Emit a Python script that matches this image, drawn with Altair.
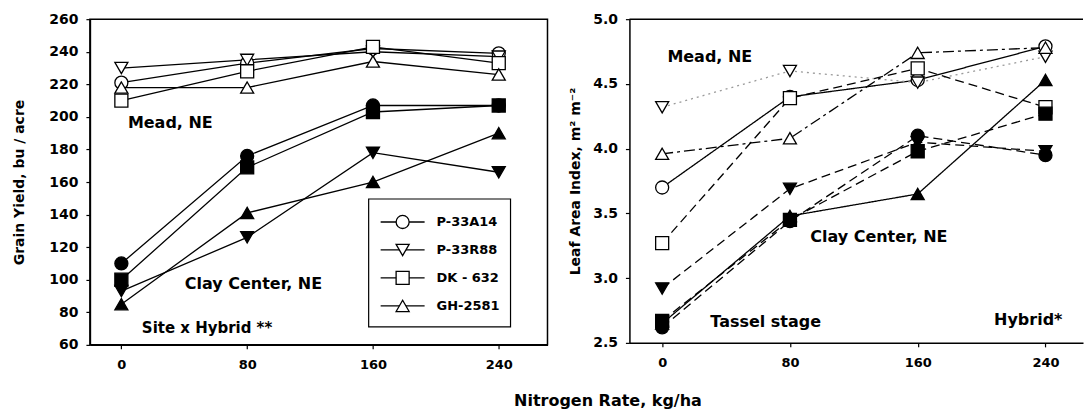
import altair as alt
import pandas as pd

# ---------------- data ----------------
rates = [0, 80, 160, 240]
hybrids = ["P-33A14", "P-33R88", "DK - 632", "GH-2581"]
sites = ["Mead, NE", "Clay Center, NE"]

yield_mead_p33a14 = [221, 233, 242, 239]
yield_mead_p33r88 = [230, 235, 240, 237]
yield_mead_dk632 = [210, 228, 243, 233]
yield_mead_gh2581 = [218, 218, 234, 226]

yield_clay_p33a14 = [110, 176, 207, 207]
yield_clay_p33r88 = [93, 126, 178, 166]
yield_clay_dk632 = [100, 169, 203, 207]
yield_clay_gh2581 = [85, 141, 160, 190]

lai_mead_p33a14 = [3.70, 4.40, 4.53, 4.79]
lai_mead_p33r88 = [4.32, 4.60, 4.51, 4.71]
lai_mead_dk632 = [3.27, 4.39, 4.62, 4.32]
lai_mead_gh2581 = [3.96, 4.08, 4.74, 4.78]

lai_clay_p33a14 = [2.62, 3.44, 4.10, 3.95]
lai_clay_p33r88 = [2.92, 3.69, 4.05, 3.98]
lai_clay_dk632 = [2.67, 3.45, 3.98, 4.27]
lai_clay_gh2581 = [2.65, 3.48, 3.65, 4.53]

left_notes = ["Mead, NE", "Clay Center, NE", "Site x Hybrid **"]
right_notes = ["Mead, NE", "Clay Center, NE", "Tassel stage", "Hybrid*"]

# ---------------- build tables ----------------
def long_table(series):
    rows = []
    for site, hyb, vals in series:
        for r, v in zip(rates, vals):
            rows.append({"site": site, "hybrid": hyb, "series": site + "|" + hyb,
                         "rate": r, "value": v})
    return pd.DataFrame(rows)

yield_df = long_table([
    (sites[0], hybrids[0], yield_mead_p33a14), (sites[0], hybrids[1], yield_mead_p33r88),
    (sites[0], hybrids[2], yield_mead_dk632), (sites[0], hybrids[3], yield_mead_gh2581),
    (sites[1], hybrids[0], yield_clay_p33a14), (sites[1], hybrids[1], yield_clay_p33r88),
    (sites[1], hybrids[2], yield_clay_dk632), (sites[1], hybrids[3], yield_clay_gh2581),
])
lai_df = long_table([
    (sites[0], hybrids[0], lai_mead_p33a14), (sites[0], hybrids[1], lai_mead_p33r88),
    (sites[0], hybrids[2], lai_mead_dk632), (sites[0], hybrids[3], lai_mead_gh2581),
    (sites[1], hybrids[0], lai_clay_p33a14), (sites[1], hybrids[1], lai_clay_p33r88),
    (sites[1], hybrids[2], lai_clay_dk632), (sites[1], hybrids[3], lai_clay_gh2581),
])

# ---------------- styling ----------------
FONT = "DejaVu Sans"
LW, LH = 458, 326
RW, RH = 454, 324
MSIZE = 170

shape_scale = alt.Scale(domain=hybrids, range=["circle", "triangle-down", "square", "triangle-up"])
fill_scale = alt.Scale(domain=sites, range=["white", "black"])

series_keys = [s + "|" + h for s in sites for h in hybrids]
dash_styles = [[1, 0], [2, 4], [9, 5], [11, 4, 3, 4],
               [9, 5], [9, 5], [9, 5], [1, 0]]
line_colors = ["black", "#9a9a9a", "black", "black", "black", "black", "black", "black"]


def axis_common(**kw):
    base = dict(grid=False, domainColor="black", domainWidth=1.5, tickColor="black",
                tickWidth=1.2, tickSize=4, labelColor="black", labelFont=FONT,
                labelFontWeight="bold", titleColor="black", titleFont=FONT,
                titleFontWeight="bold")
    base.update(kw)
    return alt.Axis(**base)


def note_layer(text, x, y, size):
    return alt.Chart(pd.DataFrame({"t": [text]})).mark_text(
        align="left", baseline="alphabetic", font=FONT, fontWeight="bold",
        fontSize=size, color="black").encode(x=alt.value(x), y=alt.value(y), text="t:N")

# ---------------- left panel: grain yield ----------------
lx = alt.X("rate:Q", scale=alt.Scale(domain=[-20, 271], nice=False, zero=False),
           axis=axis_common(values=rates, title=None, labelFontSize=13, labelPadding=10))
ly = alt.Y("value:Q", scale=alt.Scale(domain=[60, 260], nice=False, zero=False),
           axis=axis_common(values=list(range(60, 261, 20)), title="Grain Yield, bu / acre",
                            labelFontSize=14, labelPadding=8, titleFontSize=14,
                            titleX=-70, titleY=LH / 2, titleAlign="center",
                            titleBaseline="middle", titleAngle=-90))

ybase = alt.Chart(yield_df)
y_lines = ybase.mark_line(color="black", strokeWidth=1.3).encode(x=lx, y=ly, detail="series:N")
y_pts = ybase.mark_point(filled=True, size=MSIZE, stroke="black", strokeWidth=1.3, opacity=1).encode(
    x=lx, y=ly,
    shape=alt.Shape("hybrid:N", scale=shape_scale, legend=None),
    fill=alt.Fill("site:N", scale=fill_scale, legend=None))

# legend box (manual, inside the left panel)
LEG_X0, LEG_X1, LEG_Y0, LEG_Y1 = 279, 421, 180, 308
leg_df = pd.DataFrame({"hybrid": hybrids, "idx": list(range(len(hybrids)))})
leg_box = alt.Chart(pd.DataFrame({"a": [0]})).mark_rect(
    fill="white", stroke="black", strokeWidth=1.2).encode(
    x=alt.value(LEG_X0), x2=alt.value(LEG_X1), y=alt.value(LEG_Y0), y2=alt.value(LEG_Y1))
leg_base = alt.Chart(leg_df).transform_calculate(py="203 + datum.idx * 28")
leg_y = alt.Y("py:Q", scale=None, axis=None)
leg_lines = leg_base.mark_rule(color="black", strokeWidth=1.3).encode(
    x=alt.value(291), x2=alt.value(335), y=leg_y)
leg_pts = leg_base.mark_point(filled=True, fill="white", stroke="black", strokeWidth=1.3,
                              size=MSIZE, opacity=1).encode(
    x=alt.value(313), y=leg_y, shape=alt.Shape("hybrid:N", scale=shape_scale, legend=None))
leg_text = leg_base.mark_text(align="left", baseline="middle", font=FONT, fontWeight="bold",
                              fontSize=13, color="black").encode(
    x=alt.value(347), y=leg_y, text="hybrid:N")

left = alt.layer(
    y_lines, y_pts,
    note_layer(left_notes[0], 38, 109, 16),
    note_layer(left_notes[1], 95, 270, 16),
    note_layer(left_notes[2], 52, 314, 15),
    leg_box, leg_lines, leg_pts, leg_text,
).properties(width=LW, height=LH, view=alt.ViewBackground(stroke="black", strokeWidth=1.5))

# ---------------- right panel: leaf area index ----------------
rx = alt.X("rate:Q", scale=alt.Scale(domain=[-20.5, 263.5], nice=False, zero=False),
           axis=axis_common(values=rates, title="Nitrogen Rate, kg/ha", labelFontSize=13,
                            labelPadding=10, titleFontSize=16, titleX=-22, titleY=63,
                            titleAlign="center", titleBaseline="alphabetic"))
ry = alt.Y("value:Q", scale=alt.Scale(domain=[2.5, 5.0], nice=False, zero=False),
           axis=axis_common(values=[2.5, 3.0, 3.5, 4.0, 4.5, 5.0], format=".1f",
                            title="Leaf Area Index, m\u00b2 m\u207b\u00b2",
                            labelFontSize=14, labelPadding=8, titleFontSize=14,
                            titleX=-54, titleY=RH / 2, titleAlign="center",
                            titleBaseline="middle", titleAngle=-90))

lbase = alt.Chart(lai_df)
l_lines = lbase.mark_line(strokeWidth=1.3).encode(
    x=rx, y=ry, detail="series:N",
    strokeDash=alt.StrokeDash("series:N", scale=alt.Scale(domain=series_keys, range=dash_styles), legend=None),
    color=alt.Color("series:N", scale=alt.Scale(domain=series_keys, range=line_colors), legend=None))
l_pts = lbase.mark_point(filled=True, size=MSIZE, stroke="black", strokeWidth=1.3, opacity=1).encode(
    x=rx, y=ry,
    shape=alt.Shape("hybrid:N", scale=shape_scale, legend=None),
    fill=alt.Fill("site:N", scale=fill_scale, legend=None))
top_line = alt.Chart(pd.DataFrame({"a": [0]})).mark_rule(color="black", strokeWidth=1.5).encode(
    x=alt.value(0), x2=alt.value(RW), y=alt.value(0))

right = alt.layer(
    l_lines, l_pts, top_line,
    note_layer(right_notes[0], 38, 43, 16),
    note_layer(right_notes[1], 181, 223, 16),
    note_layer(right_notes[2], 81, 308, 16),
    note_layer(right_notes[3], 365, 306, 16),
).properties(width=RW, height=RH, view=alt.ViewBackground(stroke=None))

chart = alt.hconcat(left, right, spacing=82, bounds="flush").resolve_scale(
    shape="shared", fill="shared").properties(
    padding={"left": 12, "top": 11, "right": 0, "bottom": 0},
    background="white")

chart.save("out.html", embed_options={"renderer": "svg", "actions": False})
